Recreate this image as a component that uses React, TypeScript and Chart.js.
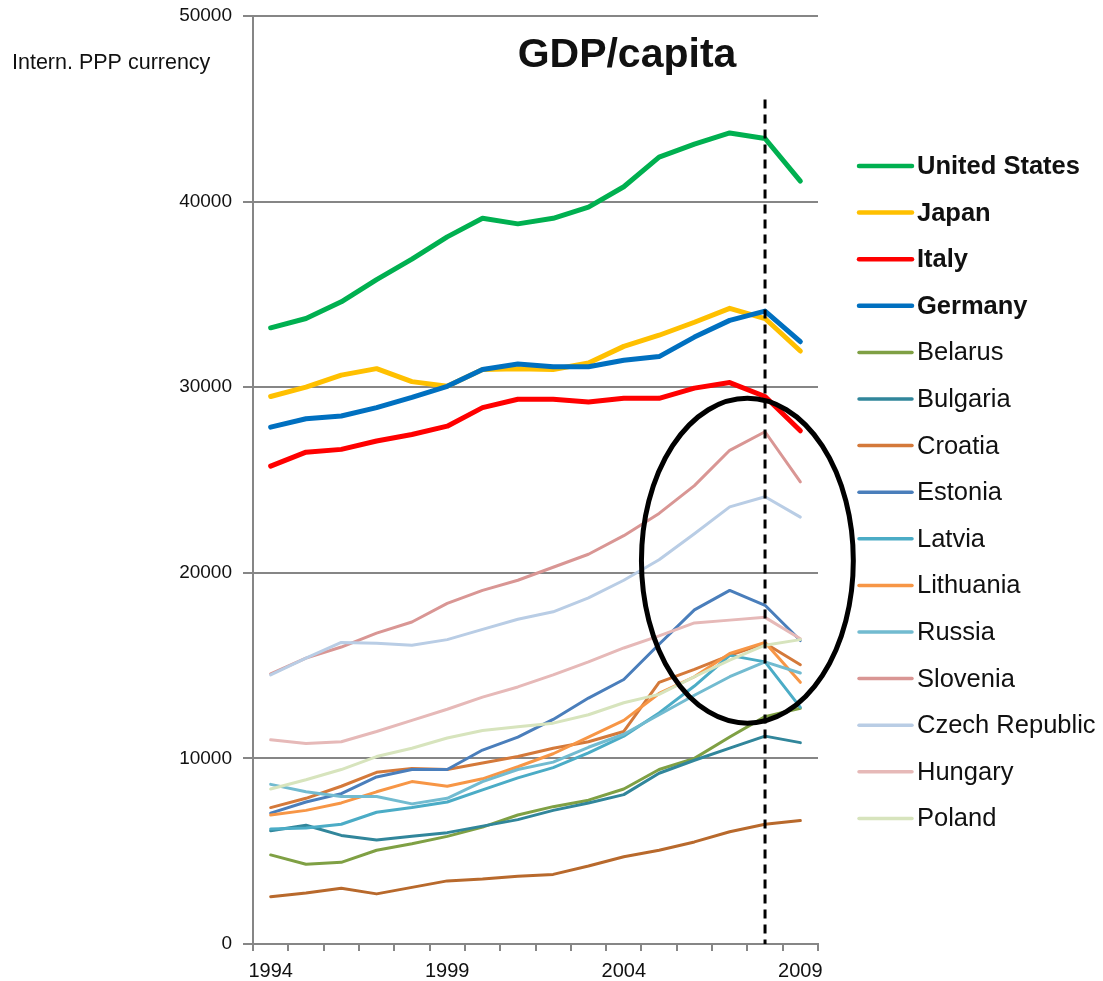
import React, { useEffect, useRef } from 'react';
import { Chart, registerables } from 'chart.js';

Chart.register(...registerables);

// ---- data -------------------------------------------------------------
const years = ['1994', '1995', '1996', '1997', '1998', '1999', '2000', '2001', '2002', '2003', '2004', '2005', '2006', '2007', '2008', '2009'];

const unitedStates = [33200, 33700, 34600, 35800, 36900, 38100, 39100, 38800, 39100, 39700, 40800, 42400, 43100, 43700, 43400, 41100];
const japan = [29500, 30000, 30650, 31000, 30300, 30050, 30950, 31000, 30950, 31300, 32200, 32800, 33500, 34250, 33700, 31950];
const italy = [25750, 26500, 26650, 27100, 27450, 27900, 28900, 29350, 29350, 29200, 29400, 29400, 29950, 30250, 29500, 27650];
const germany = [27850, 28300, 28450, 28900, 29450, 30050, 30950, 31250, 31100, 31100, 31450, 31650, 32700, 33600, 34100, 32450];
const belarus = [4800, 4300, 4400, 5050, 5400, 5800, 6300, 6950, 7400, 7750, 8350, 9400, 10000, 11150, 12250, 12700];
const bulgaria = [6100, 6400, 5850, 5600, 5800, 6000, 6350, 6700, 7200, 7600, 8050, 9200, 9900, 10550, 11200, 10850];
const croatia = [7350, 7850, 8500, 9250, 9450, 9400, 9750, 10100, 10550, 10900, 11450, 14100, 14800, 15550, 16200, 15050];
const estonia = [7050, 7650, 8100, 9000, 9400, 9400, 10450, 11150, 12100, 13250, 14250, 16150, 18000, 19050, 18250, 16350];
const latvia = [6200, 6250, 6450, 7100, 7350, 7650, 8300, 8950, 9500, 10300, 11200, 12450, 13900, 15550, 15200, 12750];
const lithuania = [6950, 7200, 7600, 8200, 8750, 8500, 8900, 9550, 10250, 11150, 12050, 13500, 14400, 15650, 16250, 14100];
const russia = [8600, 8200, 7950, 7950, 7550, 7850, 8750, 9400, 9800, 10600, 11300, 12350, 13400, 14400, 15200, 14600];
const slovenia = [14550, 15400, 16000, 16750, 17350, 18350, 19050, 19600, 20300, 21000, 22000, 23200, 24700, 26600, 27600, 24900];
const czechRepublic = [14500, 15400, 16250, 16200, 16100, 16400, 16950, 17500, 17900, 18650, 19600, 20700, 22100, 23550, 24100, 23000];
const hungary = [11000, 10800, 10900, 11450, 12050, 12650, 13300, 13850, 14500, 15200, 15950, 16600, 17300, 17450, 17600, 16450];
const poland = [8350, 8850, 9400, 10100, 10550, 11100, 11500, 11700, 11900, 12350, 13000, 13450, 14400, 15300, 16100, 16400];
// series without a legend entry (lowest line)
const unlistedSeries = [2550, 2750, 3000, 2700, 3050, 3400, 3500, 3650, 3750, 4200, 4700, 5050, 5500, 6050, 6450, 6650];

const seriesNames = ['United States', 'Japan', 'Italy', 'Germany', 'Belarus', 'Bulgaria', 'Croatia', 'Estonia', 'Latvia', 'Lithuania', 'Russia', 'Slovenia', 'Czech Republic', 'Hungary', 'Poland'];
const seriesValues = [unitedStates, japan, italy, germany, belarus, bulgaria, croatia, estonia, latvia, lithuania, russia, slovenia, czechRepublic, hungary, poland];

const yTicks = [0, 10000, 20000, 30000, 40000, 50000];
const shownYearLabels = ['1994', '1999', '2004', '2009'];

// 2008 marker and highlighted region (in data units: category index / value)
const markerYear = '2008';
const markerTopValue = 45500;
const highlightCenter = { index: 13.5, value: 20650 };
const highlightHalf = { index: 3.0, value: 8750 };

// ---- styles -----------------------------------------------------------
const seriesColors = ['#00B050', '#FFC000', '#FF0000', '#0070C0', '#7FA044', '#31869B', '#D4793A', '#4A7EBB', '#4BACC6', '#F79646', '#72BBD0', '#D99694', '#B9CDE5', '#E6B9B8', '#D7E4BD'];
const unlistedColor = '#B8692C';
const boldCount = 4;
const gridColor = '#868686';
const textColor = '#111111';
const FONT = '"Liberation Sans", Arial, sans-serif';

export default function App() {
  const canvasRef = useRef<HTMLCanvasElement>(null);

  useEffect(() => {
    const canvas = canvasRef.current;
    if (!canvas) return;

    const datasets: any[] = [
      {
        label: '',
        data: unlistedSeries,
        borderColor: unlistedColor,
        borderWidth: 3,
        order: 1,
      },
      ...seriesNames.map((name, i) => ({
        label: name,
        data: seriesValues[i],
        borderColor: seriesColors[i],
        borderWidth: i < boldCount ? 5 : 3,
        order: -i,
      })),
    ].map((d) => ({
      ...d,
      fill: false,
      tension: 0,
      pointRadius: 0,
      pointHoverRadius: 0,
      borderJoinStyle: 'round',
      borderCapStyle: 'round',
    }));

    const overlay = {
      id: 'overlay',
      afterDatasetsDraw(chart: any) {
        const { ctx } = chart;
        const x = chart.scales.x;
        const y = chart.scales.y;
        ctx.save();
        // dashed vertical marker
        const mx = x.getPixelForValue(years.indexOf(markerYear));
        ctx.strokeStyle = '#000';
        ctx.lineWidth = 3;
        ctx.setLineDash([9, 6]);
        ctx.beginPath();
        ctx.moveTo(mx, y.getPixelForValue(markerTopValue));
        ctx.lineTo(mx, y.getPixelForValue(0));
        ctx.stroke();
        ctx.setLineDash([]);
        // highlight ellipse
        const cx = x.getPixelForValue(highlightCenter.index);
        const cy = y.getPixelForValue(highlightCenter.value);
        const rx = x.getPixelForValue(highlightCenter.index + highlightHalf.index) - cx;
        const ry = cy - y.getPixelForValue(highlightCenter.value + highlightHalf.value);
        ctx.lineWidth = 5;
        ctx.beginPath();
        ctx.ellipse(cx, cy, rx, ry, 0, 0, Math.PI * 2);
        ctx.stroke();
        ctx.restore();
      },
      afterDraw(chart: any) {
        const { ctx } = chart;
        ctx.save();
        ctx.fillStyle = textColor;
        // title
        ctx.font = `bold 41px ${FONT}`;
        ctx.textAlign = 'center';
        ctx.textBaseline = 'middle';
        ctx.fillText('GDP/capita', 627, 56);
        // unit label
        ctx.font = `21.5px ${FONT}`;
        ctx.textAlign = 'left';
        ctx.fillText('Intern. PPP currency', 12, 63);
        // legend
        seriesNames.forEach((name, i) => {
          const ly = 166 + i * 46.6;
          const bold = i < boldCount;
          ctx.strokeStyle = seriesColors[i];
          ctx.lineWidth = bold ? 4.5 : 3.5;
          ctx.lineCap = 'round';
          ctx.beginPath();
          ctx.moveTo(859, ly);
          ctx.lineTo(912, ly);
          ctx.stroke();
          ctx.font = `${bold ? 'bold ' : ''}25.5px ${FONT}`;
          ctx.fillStyle = textColor;
          ctx.textBaseline = 'middle';
          ctx.fillText(name, 917, ly + 1);
        });
        ctx.restore();
      },
    };

    const chart = new Chart(canvas, {
      type: 'line',
      data: { labels: years, datasets },
      options: {
        responsive: false,
        animation: false,
        devicePixelRatio: 1,
        events: [],
        layout: { padding: { left: 0, right: 285, top: 16, bottom: 0 } },
        plugins: {
          legend: { display: false },
          tooltip: { enabled: false },
          title: { display: false },
        },
        scales: {
          x: {
            type: 'category',
            offset: true,
            grid: {
              offset: true,
              drawOnChartArea: false,
              drawTicks: true,
              tickLength: 7,
              color: gridColor,
              lineWidth: 2,
            },
            border: { display: true, color: gridColor, width: 2 },
            ticks: {
              autoSkip: false,
              maxRotation: 0,
              padding: 8,
              color: textColor,
              font: { family: FONT, size: 20 },
              callback: (_v: any, i: number) => (shownYearLabels.includes(years[i]) ? years[i] : ''),
            },
            afterFit: (s: any) => {
              s.height = 37;
              s.paddingLeft = 0;
              s.paddingRight = 0;
            },
          },
          y: {
            min: yTicks[0],
            max: yTicks[yTicks.length - 1],
            grid: { color: gridColor, lineWidth: 2, tickLength: 10, drawTicks: true },
            border: { display: true, color: gridColor, width: 2 },
            ticks: {
              stepSize: yTicks[1] - yTicks[0],
              padding: 11,
              color: textColor,
              font: { family: FONT, size: 19 },
              callback: (v: any) => String(v),
            },
            afterFit: (s: any) => {
              s.width = 253;
              s.paddingTop = 0;
              s.paddingBottom = 0;
            },
          },
        },
      },
      plugins: [overlay],
    });

    return () => chart.destroy();
  }, []);

  return (
    <div style={{ position: 'absolute', left: 0, top: 0, width: 1103, height: 981, background: '#fff' }}>
      <canvas ref={canvasRef} width={1103} height={981} style={{ display: 'block' }} />
    </div>
  );
}
